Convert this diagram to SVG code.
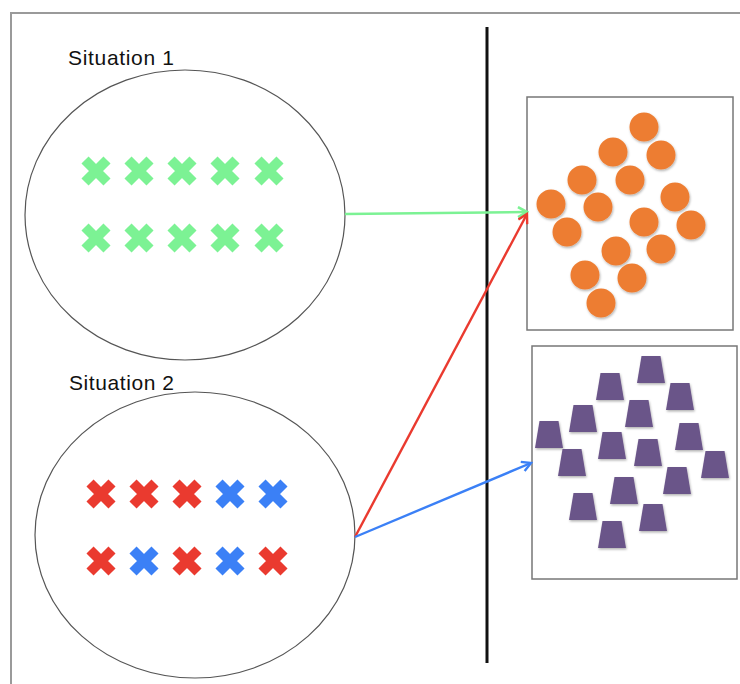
<svg xmlns="http://www.w3.org/2000/svg" xmlns:xlink="http://www.w3.org/1999/xlink" width="740" height="684" viewBox="0 0 740 684">
  <style>
    .frame { stroke: #9a9a9a; stroke-width: 2; fill: none; }
    .divider { stroke: #111; stroke-width: 3; fill: none; }
    .ell { fill: #fff; stroke: #555; stroke-width: 1.2; }
    .box { fill: #fff; stroke: #777; stroke-width: 1.5; }
    .label { font-family: "Liberation Sans", Arial, sans-serif; font-size: 21px; fill: #111; }
    .g { stroke: #7cf294; }
    .r { stroke: #ea3a2f; }
    .b { stroke: #3b80f6; }
    .dot { fill: #ed7d31; filter: url(#sh); }
    .trap { fill: #6b5589; filter: url(#sh); }
    .conn { fill: none; stroke-width: 2.4; }
  </style>
  <defs>
    <path id="x" d="M-11,-11 L11,11 M11,-11 L-11,11" fill="none" stroke-width="10"/>
    <polygon id="t" points="-9.5,0 9.5,0 14,27 -14,27"/>
    <filter id="sh" x="-30%" y="-30%" width="160%" height="160%">
      <feDropShadow dx="0.8" dy="1.5" stdDeviation="1" flood-color="#000" flood-opacity="0.3"/>
    </filter>
    <marker id="ag" markerWidth="12" markerHeight="12" refX="10" refY="6" orient="auto" markerUnits="userSpaceOnUse">
      <path d="M1,1 L10,6 L1,11" fill="none" stroke="#7cf294" stroke-width="2.6"/>
    </marker>
    <marker id="ar" markerWidth="12" markerHeight="12" refX="10" refY="6" orient="auto" markerUnits="userSpaceOnUse">
      <path d="M1,1 L10,6 L1,11" fill="none" stroke="#ea3a2f" stroke-width="2.4"/>
    </marker>
    <marker id="ab" markerWidth="12" markerHeight="12" refX="10" refY="6" orient="auto" markerUnits="userSpaceOnUse">
      <path d="M1,1 L10,6 L1,11" fill="none" stroke="#3b80f6" stroke-width="2.4"/>
    </marker>
  </defs>

  <rect width="740" height="684" fill="#fff"/>
  <path class="frame" d="M11,684 L11,13 L740,13"/>

  <g id="divider">
    <line class="divider" x1="487" y1="27" x2="487" y2="663"/>
  </g>

  <g id="situation1">
    <text class="label" x="68" y="65" textLength="106">Situation 1</text>
    <ellipse class="ell" cx="185" cy="215" rx="160" ry="145"/>
    <use xlink:href="#x" class="g" x="96" y="171"/>
    <use xlink:href="#x" class="g" x="139" y="171"/>
    <use xlink:href="#x" class="g" x="182" y="171"/>
    <use xlink:href="#x" class="g" x="225" y="171"/>
    <use xlink:href="#x" class="g" x="269" y="171"/>
    <use xlink:href="#x" class="g" x="96" y="238"/>
    <use xlink:href="#x" class="g" x="139" y="238"/>
    <use xlink:href="#x" class="g" x="182" y="238"/>
    <use xlink:href="#x" class="g" x="225" y="238"/>
    <use xlink:href="#x" class="g" x="269" y="238"/>
  </g>

  <g id="situation2">
    <text class="label" x="69" y="390" textLength="105">Situation 2</text>
    <ellipse class="ell" cx="195" cy="535" rx="160" ry="143"/>
    <use xlink:href="#x" class="r" x="101" y="494"/>
    <use xlink:href="#x" class="r" x="144" y="494"/>
    <use xlink:href="#x" class="r" x="187" y="494"/>
    <use xlink:href="#x" class="b" x="230" y="494"/>
    <use xlink:href="#x" class="b" x="273" y="494"/>
    <use xlink:href="#x" class="r" x="101" y="561"/>
    <use xlink:href="#x" class="b" x="144" y="561"/>
    <use xlink:href="#x" class="r" x="187" y="561"/>
    <use xlink:href="#x" class="b" x="230" y="561"/>
    <use xlink:href="#x" class="r" x="273" y="561"/>
  </g>

  <g id="box-circles">
    <rect class="box" x="527" y="97" width="206" height="233"/>
    <circle class="dot" cx="644" cy="127" r="14.5"/>
    <circle class="dot" cx="613" cy="152" r="14.5"/>
    <circle class="dot" cx="661" cy="155" r="14.5"/>
    <circle class="dot" cx="582" cy="180" r="14.5"/>
    <circle class="dot" cx="630" cy="180" r="14.5"/>
    <circle class="dot" cx="551" cy="204" r="14.5"/>
    <circle class="dot" cx="598" cy="207" r="14.5"/>
    <circle class="dot" cx="675" cy="197" r="14.5"/>
    <circle class="dot" cx="567" cy="232" r="14.5"/>
    <circle class="dot" cx="644" cy="222" r="14.5"/>
    <circle class="dot" cx="691" cy="225" r="14.5"/>
    <circle class="dot" cx="616" cy="251" r="14.5"/>
    <circle class="dot" cx="661" cy="249" r="14.5"/>
    <circle class="dot" cx="585" cy="275" r="14.5"/>
    <circle class="dot" cx="632" cy="278" r="14.5"/>
    <circle class="dot" cx="601" cy="303" r="14.5"/>
  </g>

  <g id="box-trapezoids">
    <rect class="box" x="532" y="346" width="205" height="233"/>
    <use xlink:href="#t" class="trap" x="651" y="356"/>
    <use xlink:href="#t" class="trap" x="610" y="373"/>
    <use xlink:href="#t" class="trap" x="680" y="383"/>
    <use xlink:href="#t" class="trap" x="583" y="405"/>
    <use xlink:href="#t" class="trap" x="639" y="400"/>
    <use xlink:href="#t" class="trap" x="549" y="421"/>
    <use xlink:href="#t" class="trap" x="689" y="423"/>
    <use xlink:href="#t" class="trap" x="612" y="432"/>
    <use xlink:href="#t" class="trap" x="648" y="439"/>
    <use xlink:href="#t" class="trap" x="572" y="449"/>
    <use xlink:href="#t" class="trap" x="715" y="451"/>
    <use xlink:href="#t" class="trap" x="677" y="467"/>
    <use xlink:href="#t" class="trap" x="624" y="477"/>
    <use xlink:href="#t" class="trap" x="583" y="493"/>
    <use xlink:href="#t" class="trap" x="653" y="504"/>
    <use xlink:href="#t" class="trap" x="612" y="521"/>
  </g>

  <g id="connectors">
    <line class="conn" stroke="#7cf294" stroke-width="3" x1="345" y1="214" x2="527" y2="212" marker-end="url(#ag)"/>
    <line class="conn" stroke="#ea3a2f" x1="355" y1="537" x2="527" y2="214" marker-end="url(#ar)"/>
    <line class="conn" stroke="#3b80f6" x1="355" y1="537" x2="531" y2="463" marker-end="url(#ab)"/>
  </g>
</svg>
